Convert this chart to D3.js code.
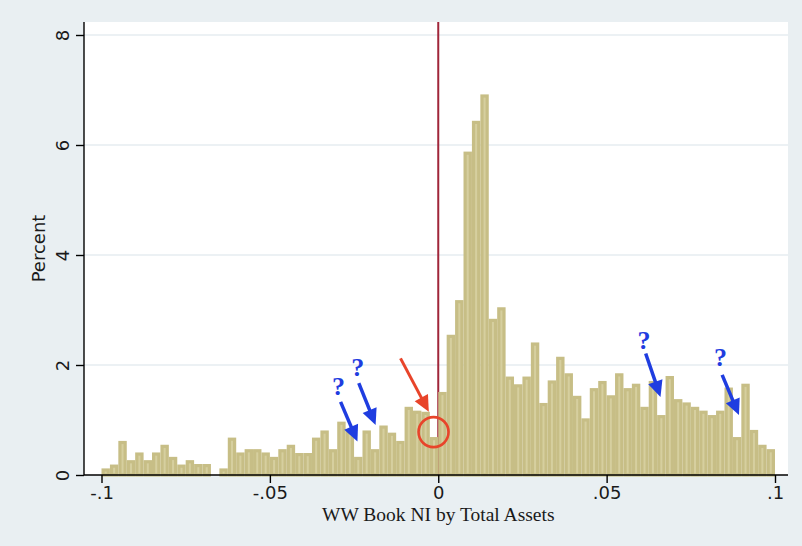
<!DOCTYPE html>
<html>
<head>
<meta charset="utf-8">
<script src="https://cdn.jsdelivr.net/npm/d3@7"></script>
<style>
  html, body { margin: 0; padding: 0; background: #e9eff2; }
  svg { display: block; }
</style>
</head>
<body>
<svg id="chart" width="802" height="546"></svg>
<script>
// Histogram of WW book net income scaled by total assets, bins of width .0025
const binStart = -0.1;
const binWidth = 0.0025;
const percents = [
  0.12, 0.19, 0.62, 0.27, 0.41, 0.27, 0.41, 0.55, 0.33, 0.19,
  0.27, 0.20, 0.20, 0.00, 0.12, 0.68, 0.41, 0.47, 0.47, 0.41,
  0.33, 0.47, 0.55, 0.40, 0.40, 0.68, 0.81, 0.47, 0.97, 0.80,
  0.33, 0.81, 0.47, 0.90, 0.77, 0.62, 1.24, 1.17, 1.15, 0.69,
  1.51, 2.55, 3.18, 5.88, 6.44, 6.92, 2.84, 3.05, 1.79, 1.65,
  1.79, 2.41, 1.31, 1.72, 2.15, 1.85, 1.44, 1.03, 1.58, 1.71,
  1.45, 1.85, 1.58, 1.66, 1.24, 1.71, 1.09, 1.80, 1.38, 1.32,
  1.24, 1.17, 1.09, 1.17, 1.59, 0.69, 1.66, 0.82, 0.55, 0.47
];

const xTicks = [-0.1, -0.05, 0, 0.05, 0.1];
const xTickLabels = ["-.1", "-.05", "0", ".05", ".1"];
const yTicks = [0, 2, 4, 6, 8];
const yTickLabels = ["0", "2", "4", "6", "8"];
const xTitle = "WW Book NI by Total Assets";
const yTitle = "Percent";

// Reference line at zero
const refLineX = 0;

// Question-mark callouts (label position and arrow in data units)
const qLabels = [
  { x: -0.0296, y: 1.61 },
  { x: -0.0239, y: 1.97 },
  { x: 0.0611, y: 2.45 },
  { x: 0.0838, y: 2.15 }
];
const blueArrows = [
  { x1: -0.0290, y1: 1.33, x2: -0.0240, y2: 0.61 },
  { x1: -0.0236, y1: 1.67, x2: -0.0186, y2: 0.91 },
  { x1: 0.0616, y1: 2.21, x2: 0.0660, y2: 1.42 },
  { x1: 0.0843, y1: 1.82, x2: 0.0893, y2: 1.09 }
];
const redArrows = [
  { x1: -0.0112, y1: 2.12, x2: -0.0028, y2: 1.15 }
];
const redCircles = [
  { x: -0.0014, y: 0.78 }
];

const W = 802, H = 546;
const plot = { left: 84, right: 788, top: 22, bottom: 475 };

const svg = d3.select("#chart");

svg.append("rect").attr("width", W).attr("height", H).attr("fill", "#e9eff2");
svg.append("rect")
  .attr("x", plot.left).attr("y", plot.top)
  .attr("width", plot.right - plot.left).attr("height", plot.bottom - plot.top)
  .attr("fill", "#ffffff");

const x = d3.scaleLinear().domain([-0.1, 0.1]).range([101.5, 775]);
const y = d3.scaleLinear().domain([0, 8]).range([475, 35]);

// Horizontal grid lines
svg.append("g").selectAll("line")
  .data(yTicks.filter(d => d > 0))
  .join("line")
  .attr("x1", plot.left).attr("x2", plot.right)
  .attr("y1", d => y(d)).attr("y2", d => y(d))
  .attr("stroke", "#e6edf0").attr("stroke-width", 1.6);

// Vertical reference line
svg.append("line")
  .attr("x1", x(refLineX)).attr("x2", x(refLineX))
  .attr("y1", plot.top).attr("y2", plot.bottom)
  .attr("stroke", "#a0263a").attr("stroke-width", 2);

// Bars
const bins = percents.map((v, i) => ({
  x0: binStart + i * binWidth,
  x1: binStart + (i + 1) * binWidth,
  v
}));
svg.append("g").selectAll("rect")
  .data(bins.filter(d => d.v > 0))
  .join("rect")
  .attr("x", d => x(d.x0) + 1.6)
  .attr("width", d => x(d.x1) - x(d.x0) - 3.2)
  .attr("y", d => y(d.v) + 1.6)
  .attr("height", d => Math.max(0, y(0) - y(d.v) - 1.6))
  .attr("fill", "#d6cf9f")
  .attr("stroke", "#c7be86")
  .attr("stroke-width", 3.2);

// Axes
const xAxis = d3.axisBottom(x).tickValues(xTicks)
  .tickFormat((d, i) => xTickLabels[i]).tickSize(8).tickSizeOuter(0);
const gx = svg.append("g").attr("transform", `translate(0,${plot.bottom})`).call(xAxis);
gx.select(".domain").remove();
gx.append("line").attr("x1", plot.left).attr("x2", plot.right)
  .attr("y1", 0).attr("y2", 0).attr("stroke", "#000").attr("stroke-width", 1.4);
gx.selectAll(".tick line").attr("stroke", "#000").attr("stroke-width", 1.4);
gx.selectAll(".tick text")
  .attr("y", 11)
  .attr("font-family", "DejaVu Sans, sans-serif")
  .attr("font-size", 18)
  .attr("fill", "#1a1a1a");

const yAxis = d3.axisLeft(y).tickValues(yTicks)
  .tickFormat((d, i) => yTickLabels[i]).tickSize(8).tickSizeOuter(0);
const gy = svg.append("g").attr("transform", `translate(${plot.left},0)`).call(yAxis);
gy.select(".domain").remove();
gy.append("line").attr("x1", 0).attr("x2", 0)
  .attr("y1", plot.top).attr("y2", plot.bottom).attr("stroke", "#000").attr("stroke-width", 1.4);
gy.selectAll(".tick line").attr("stroke", "#000").attr("stroke-width", 1.4);
gy.selectAll(".tick text")
  .attr("x", null).attr("dy", null)
  .attr("transform", "translate(-15,0) rotate(-90)")
  .attr("text-anchor", "middle")
  .attr("font-family", "DejaVu Sans, sans-serif")
  .attr("font-size", 18)
  .attr("fill", "#1a1a1a");

// Axis titles
svg.append("text")
  .attr("x", x(0)).attr("y", 521)
  .attr("text-anchor", "middle")
  .attr("font-family", "Liberation Serif, serif")
  .attr("font-size", 19.5)
  .attr("fill", "#1a1a1a")
  .text(xTitle);

svg.append("text")
  .attr("transform", `translate(45,${(plot.top + plot.bottom) / 2}) rotate(-90)`)
  .attr("text-anchor", "middle")
  .attr("font-family", "DejaVu Sans, sans-serif")
  .attr("font-size", 18)
  .attr("fill", "#1a1a1a")
  .text(yTitle);

// Arrow helper: shaft plus filled triangular head
function arrow(g, a, color, width, headLen, headHalf) {
  const X1 = x(a.x1), Y1 = y(a.y1), X2 = x(a.x2), Y2 = y(a.y2);
  const dx = X2 - X1, dy = Y2 - Y1, len = Math.hypot(dx, dy);
  const ux = dx / len, uy = dy / len;
  const bx = X2 - ux * headLen, by = Y2 - uy * headLen;
  g.append("line")
    .attr("x1", X1).attr("y1", Y1).attr("x2", bx + ux * 2).attr("y2", by + uy * 2)
    .attr("stroke", color).attr("stroke-width", width);
  g.append("path")
    .attr("d", `M${X2},${Y2}L${bx - uy * headHalf},${by + ux * headHalf}L${bx + uy * headHalf},${by - ux * headHalf}Z`)
    .attr("fill", color);
}

const ann = svg.append("g");
const blue = "#1f3de0";
const red = "#e8442a";

blueArrows.forEach(a => arrow(ann, a, blue, 3.5, 16, 7.5));
redArrows.forEach(a => arrow(ann, a, red, 3, 16, 7.5));

ann.selectAll("text.q")
  .data(qLabels)
  .join("text")
  .attr("class", "q")
  .attr("x", d => x(d.x)).attr("y", d => y(d.y) + 9)
  .attr("text-anchor", "middle")
  .attr("font-family", "Liberation Serif, serif")
  .attr("font-weight", "bold")
  .attr("font-size", 26)
  .attr("fill", blue)
  .text("?");

ann.selectAll("circle")
  .data(redCircles)
  .join("circle")
  .attr("cx", d => x(d.x)).attr("cy", d => y(d.y))
  .attr("r", 15)
  .attr("fill", "none")
  .attr("stroke", red)
  .attr("stroke-width", 2.6);
</script>
</body>
</html>
